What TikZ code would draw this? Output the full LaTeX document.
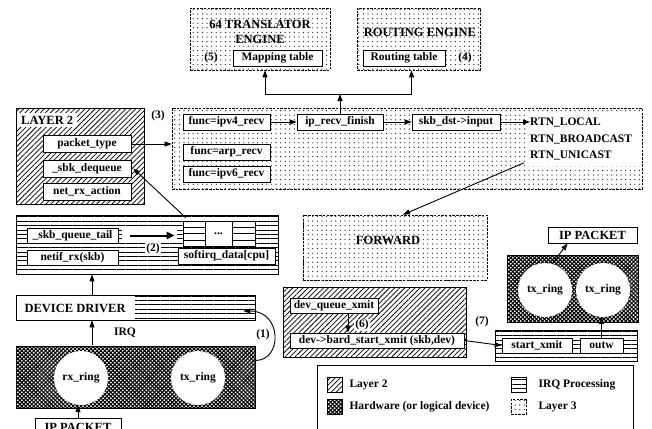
\documentclass[tikz,border=0pt]{standalone}
\usepackage{fontspec}
\setmainfont{Liberation Serif}
\usetikzlibrary{patterns.meta,arrows.meta,calc}

\begin{document}
\begin{tikzpicture}[x=1pt,y=-1pt,
  lbl/.style={font=\bfseries\fontsize{11.5}{13}\selectfont},
  head/.style={font=\bfseries\fontsize{12.5}{15}\selectfont},
  ibox/.style={lbl, draw, fill=white, line width=0.7pt, inner sep=1pt},
  area/.style={draw, line width=0.7pt, inner sep=0pt},
  l2fill/.style={pattern={Lines[angle=45,distance=3.6pt,line width=0.75pt]}},
  hwfill/.style={pattern={Hatch[angle=45,distance=2.8pt,line width=1.1pt]}},
  irqfill/.style={pattern={Lines[angle=0,distance=4.4pt,line width=0.85pt]}},
  l3fill/.style={pattern={Dots[distance=4.6pt,radius=0.6pt]}},
  dotedge/.style={dash pattern=on 2.5pt off 1.2pt},
  ring/.style={lbl, circle, fill=white, minimum size=54pt, inner sep=0pt},
  arr/.style={line width=0.9pt, -{Triangle[length=7pt,width=5pt]}},
]
\useasboundingbox (0,0) rectangle (652,428);
\clip (0,0) rectangle (652,428);

% ---------- engines ----------
\node[area, l3fill, dotedge, minimum width=140, minimum height=62] (trans) at (260,39) {};
\node[head, align=center] (transt) at (260,31.5) {64 TRANSLATOR\\ENGINE};
\node[lbl] (n5) at (211,58) {(5)};
\node[ibox, minimum width=89, minimum height=16] (maptab) at (277.5,58) {Mapping table};

\node[area, l3fill, dotedge, minimum width=123, minimum height=62] (route) at (418.5,39) {};
\node[head] (routet) at (420,32) {ROUTING ENGINE};
\node[ibox, minimum width=82, minimum height=16] (routab) at (404,58) {Routing table};
\node[lbl] (n4) at (465,58) {(4)};

% ---------- layer 3 receive path ----------
\node[area, l3fill, dotedge, minimum width=470, minimum height=81] (l3) at (407,148.5) {};
\fill[white] (525,113) rectangle (640,166);
\node[ibox, minimum width=87, minimum height=16] (ipv4) at (226.5,122) {func=ipv4\_recv};
\node[ibox, minimum width=87, minimum height=16] (arp) at (226.5,152) {func=arp\_recv};
\node[ibox, minimum width=87, minimum height=16] (ipv6) at (226.5,174) {func=ipv6\_recv};
\node[ibox, minimum width=86, minimum height=16] (iprf) at (340,122) {ip\_recv\_finish};
\node[ibox, minimum width=88, minimum height=16] (skbd) at (456,122) {skb\_dst->input};
\node[lbl, anchor=west, inner sep=0pt] (rtnl) at (530,122) {RTN\_LOCAL};
\node[lbl, anchor=west, inner sep=0pt] (rtnb) at (530,139) {RTN\_BROADCAST};
\node[lbl, anchor=west, inner sep=0pt] (rtnu) at (530,155) {RTN\_UNICAST};
\draw[arr] (ipv4) -- (iprf);
\draw[arr] (iprf) -- (skbd);
\draw[arr] (skbd.east) -- (rtnl.west);

\coordinate (split) at (340,94);
\draw[arr] (iprf.north) -- (split);
\draw[arr] (split) -| ([xshift=5]trans.south);
\draw[arr] (split) -| ([xshift=-7]route.south);

% ---------- layer 2 (receive) ----------
\node[area, l2fill, minimum width=128, minimum height=96] (l2) at (80,156) {};
\node[head, fill=white, anchor=west, inner xsep=4pt, inner ysep=3pt] (l2t) at (17,120) {LAYER 2};
\node[ibox, minimum width=88, minimum height=17] (pkt) at (87,144) {packet\_type};
\node[ibox, minimum width=88, minimum height=17] (sbk) at (87,168.5) {\_sbk\_dequeue};
\node[ibox, minimum width=88, minimum height=17] (nrxa) at (87,191.5) {net\_rx\_action};
\draw[arr] (pkt.east) -- (pkt.east -| l3.west);
\node[lbl] (n3) at (158,116) {(3)};

% ---------- IRQ processing (receive) ----------
\node[area, irqfill, minimum width=262, minimum height=59] (irq1) at (147,244.5) {};
\fill[white] (122,228) rectangle (177,243);
\node[ibox, minimum width=91, minimum height=15] (sqt) at (72.5,235.5) {\_skb\_queue\_tail};
\node[ibox, minimum width=91, minimum height=15] (nrx) at (72.5,257.5) {netif\_rx(skb)};
\node[draw, fill=white, line width=0.6pt, minimum width=22, minimum height=25, inner sep=0pt] (c1) at (194,233.5) {};
\node[draw, fill=white, line width=0.6pt, minimum width=27, minimum height=25, inner sep=0pt, lbl] (c2) at (218.5,233.5) {...};
\node[draw, fill=white, line width=0.6pt, minimum width=23, minimum height=25, inner sep=0pt] (c3) at (243.5,233.5) {};
\foreach \f in {0.25,0.5,0.75} {
  \draw[line width=0.6pt] ($(c1.north west)!\f!(c1.south west)$) -- ($(c1.north east)!\f!(c1.south east)$);
  \draw[line width=0.6pt] ($(c3.north west)!\f!(c3.south west)$) -- ($(c3.north east)!\f!(c3.south east)$);
}
\node[ibox, minimum width=97, minimum height=16] (sirq) at (226.5,256) {softirq\_data[cpu]};
\draw[line width=2pt, -{Triangle[length=8pt,width=7pt]}] ([xshift=12]sqt.east) -- ([xshift=-8]c1.west |- sqt.east);
\node[lbl, fill=white, inner sep=1.5pt] (n2) at (153,249) {(2)};
\draw[arr] ([xshift=3,yshift=3]c1.north west) -- ([xshift=2]sbk.east);

% ---------- device driver ----------
\path[irqfill] (135,295) rectangle (255,320);
\node[area, minimum width=239, minimum height=25] (drv) at (135.5,307.5) {};
\draw[line width=1.6pt] (drv.south west) -- (drv.south east);
\node[head, anchor=west] (drvt) at (21,308) {DEVICE DRIVER};
\node[lbl] (irqt) at (125,333) {IRQ};

% ---------- hardware (receive) ----------
\node[area, hwfill, minimum width=239, minimum height=62] (hwl) at (135.5,377) {};
\node[ring] (rxr) at (81,378) {rx\_ring};
\node[ring] (txr) at (198,378) {tx\_ring};
\coordinate (colirq) at (92,0);
\draw[arr] (colirq |- drv.north) -- (colirq |- irq1.south);
\draw[arr] (colirq |- hwl.north) -- (colirq |- drv.south);
\draw[arr] ([yshift=-15]hwl.north east) .. controls +(27,0) and +(39,0) .. ([xshift=-12,yshift=-3.5]drv.east);
\node[lbl] (n1) at (263,335) {(1)};
\node[ibox, head, minimum width=86, minimum height=18] (ipk1) at (78,427) {IP PACKET};
\draw[arr] (ipk1.north) -- (ipk1.north |- rxr.south);

% ---------- forward / transmit ----------
\node[area, l3fill, dotedge, minimum width=184, minimum height=65] (fwd) at (395,247.5) {};
\node[head] (fwdt) at (388,240) {FORWARD};
\draw[arr] ($(rtnu.south west)+(-6,3)$) -- ([xshift=8]fwd.north);

\node[area, l2fill, minimum width=183, minimum height=70] (l2r) at (374.5,322) {};
\node[ibox, minimum width=88, minimum height=15] (dqx) at (334,305.5) {dev\_queue\_xmit};
\node[ibox, minimum width=174, minimum height=15] (hsx) at (377,340.5) {dev->bard\_start\_xmit (skb,dev)};
\coordinate (col6) at (348,0);
\draw[arr] (col6 |- dqx.south) -- (col6 |- hsx.north);
\node[lbl, fill=white, inner sep=1pt] (n6) at (362,325) {(6)};
\node[lbl] (n7) at (482,322) {(7)};

\node[area, irqfill, minimum width=142, minimum height=31] (irq2) at (566,345.5) {};
\node[ibox, minimum width=70, minimum height=15] (stx) at (537,345.5) {start\_xmit};
\node[ibox, minimum width=43, minimum height=15] (outw) at (601.5,345.5) {outw};
\draw[arr] (hsx.east) -- (stx.west);

\node[area, hwfill, minimum width=131, minimum height=67] (hwr) at (572.5,288.5) {};
\node[ring] (tr1) at (545,290) {tx\_ring};
\node[ring] (tr2) at (603,290) {tx\_ring};
\draw[arr] (outw.north) -- (outw.north |- tr2.south);
\node[ibox, head, minimum width=89, minimum height=16] (ipk2) at (592.5,235) {IP PACKET};
\draw[arr] (tr1.75) -- ([xshift=20]ipk2.south west);

% ---------- legend ----------
\node[area, fill=white, minimum width=316, minimum height=64] (leg) at (475,397) {};
\node[area, l2fill, minimum width=15, minimum height=15] (sw1) at (335,385) {};
\node[lbl, anchor=west] (lg1) at (346,385) {Layer 2};
\node[area, hwfill, minimum width=15, minimum height=15] (sw2) at (335,407) {};
\node[lbl, anchor=west] (lg2) at (346,407) {Hardware (or logical device)};
\node[area, irqfill, minimum width=15, minimum height=15] (sw3) at (518.5,385) {};
\node[lbl, anchor=west] (lg3) at (535,385) {IRQ Processing};
\node[area, l3fill, dotedge, minimum width=15, minimum height=15] (sw4) at (518.5,407) {};
\node[lbl, anchor=west] (lg4) at (535,407) {Layer 3};
\end{tikzpicture}
\end{document}
